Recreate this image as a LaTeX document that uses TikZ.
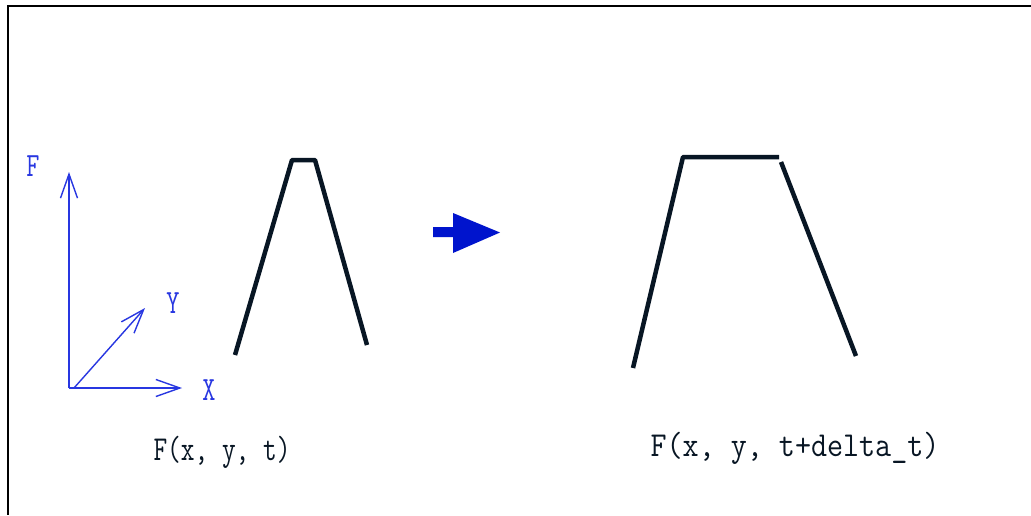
\documentclass[tikz,border=0pt]{standalone}
\usepackage{fontspec}
\usetikzlibrary{arrows.meta}
\definecolor{axisblue}{RGB}{40,55,225}
\definecolor{arrowblue}{RGB}{0,20,205}
\definecolor{curvecol}{RGB}{8,22,36}
\tikzset{
  frame/.style={line width=2.5pt, black},
  axis/.style={axisblue, line width=1.4pt, -{Straight Barb[length=24pt,width=17pt,line width=1.4pt]}},
  axlabel/.style={axisblue, font=\ttfamily\fontsize{34}{34}\selectfont, inner sep=0pt},
  profile/.style={curvecol, line width=4.5pt, line join=round},
  caption/.style={curvecol, inner sep=0pt, anchor=base, font=\ttfamily\fontsize{35}{35}\selectfont},
}
\begin{document}
\begin{tikzpicture}[x=1pt,y=-1pt]
\useasboundingbox (0,0) rectangle (1031,515);
\fill[white] (0,0) rectangle (1031,515);
% frame
\draw[frame] (1031,6) -- (8,6) -- (8,515);
% axes
\coordinate (O) at (69,388);
\coordinate (Ftip) at (69,172);
\coordinate (Xtip) at (182,388);
\coordinate (Ystart) at (74,388);
\coordinate (Ytip) at (145,308);
\draw[axis] (O) -- (Ftip);
\draw[axis] (O) -- (Xtip);
\draw[axis] (Ystart) -- (Ytip);
\node[axlabel] (Flab) at (33,166) {\scalebox{0.75}[1]{F}};
\node[axlabel] (Ylab) at (173,303) {\scalebox{0.75}[1]{Y}};
\node[axlabel] (Xlab) at (209,390) {\scalebox{0.75}[1]{X}};
% left profile
\draw[profile] (235,355) -- (292,160) -- (315,160) -- (367,345);
% right profile
\draw[profile] (633,368) -- (683,157) -- (779,157);
\draw[profile] (781,162) -- (856,356);
% block arrow
\fill[arrowblue] (433,227) -- (453,227) -- (453,213) -- (500,232.5) -- (453,253) -- (453,237) -- (433,237) -- cycle;
% captions
\node[caption] (cap1) at (222,460) {\scalebox{0.76}[1]{F(x, y, t)}};
\node[caption] (cap2) at (795,456) {\scalebox{0.89}[1]{F(x, y, t+delta\_t)}};
\end{tikzpicture}
\end{document}
